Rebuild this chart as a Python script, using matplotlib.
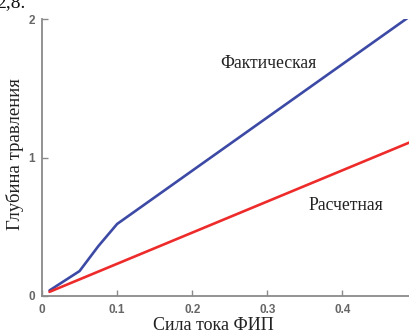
import matplotlib
matplotlib.use("Agg")
import matplotlib.pyplot as plt

# Etch depth vs. FIB current: measured and calculated
current_fact = [0.01, 0.05, 0.075, 0.1, 0.49]
depth_fact = [0.04, 0.18, 0.36, 0.52, 2.02]

current_calc = [0.01, 0.49]
depth_calc = [0.03, 1.11]

x_ticks = [0, 0.1, 0.2, 0.3, 0.4]
x_tick_labels = ["0", "0.1", "0.2", "0.3", "0.4"]
y_ticks = [0, 1, 2]
y_tick_labels = ["0", "1", "2"]

plt.rcParams["font.serif"] = ["Liberation Serif", "DejaVu Serif"]
serif = ["serif"]
axis_gray = "#8a8a8a"
tick_gray = "#666666"

fig = plt.figure(figsize=(4.10, 3.34), dpi=100)
W, H = 410, 334
ax = fig.add_axes([42 / W, 38 / H, (W - 42) / W, (296 - 19) / H])

ax.plot(current_fact, depth_fact, color="#3c4aa6", lw=1.9, solid_capstyle="round")
ax.plot(current_calc, depth_calc, color="#ee2b2b", lw=1.9, solid_capstyle="round")

ax.set_xlim(0, 0.49)
ax.set_ylim(0, 2.0)

for side in ("top", "right"):
    ax.spines[side].set_visible(False)
for side in ("left", "bottom"):
    ax.spines[side].set_color(axis_gray)
    ax.spines[side].set_linewidth(1.3)

ax.set_xticks(x_ticks)
ax.set_xticklabels(x_tick_labels)
ax.set_yticks(y_ticks)
ax.set_yticklabels(y_tick_labels)
ax.tick_params(direction="in", length=4, width=1, color=axis_gray,
               labelcolor=tick_gray, labelsize=8.5)
ax.tick_params(axis="x", pad=6)
ax.tick_params(axis="y", pad=5)
for lab in ax.get_xticklabels() + ax.get_yticklabels():
    lab.set_fontfamily("Liberation Sans")
    lab.set_fontweight("bold")

fig.text(268 / W, 1 - 63 / H, "Фактическая", family=serif, fontsize=12.7,
         color="#222222", ha="center", va="center")
fig.text(346 / W, 1 - 205 / H, "Расчетная", family=serif, fontsize=12.7,
         color="#222222", ha="center", va="center")

fig.text(213 / W, 1 - 325 / H, "Сила тока ФИП", family=serif, fontsize=13,
         color="#222222", ha="center", va="center")
fig.text(15 / W, 1 - 154 / H, "Глубина травления", family=serif, fontsize=13.5,
         color="#222222", ha="center", va="center", rotation=90)

fig.text(-4 / W, 1 - 7 / H, "2,8.", family=serif, fontsize=14,
         color="#111111", ha="left", va="baseline")

fig.savefig("out.png", dpi=100)
